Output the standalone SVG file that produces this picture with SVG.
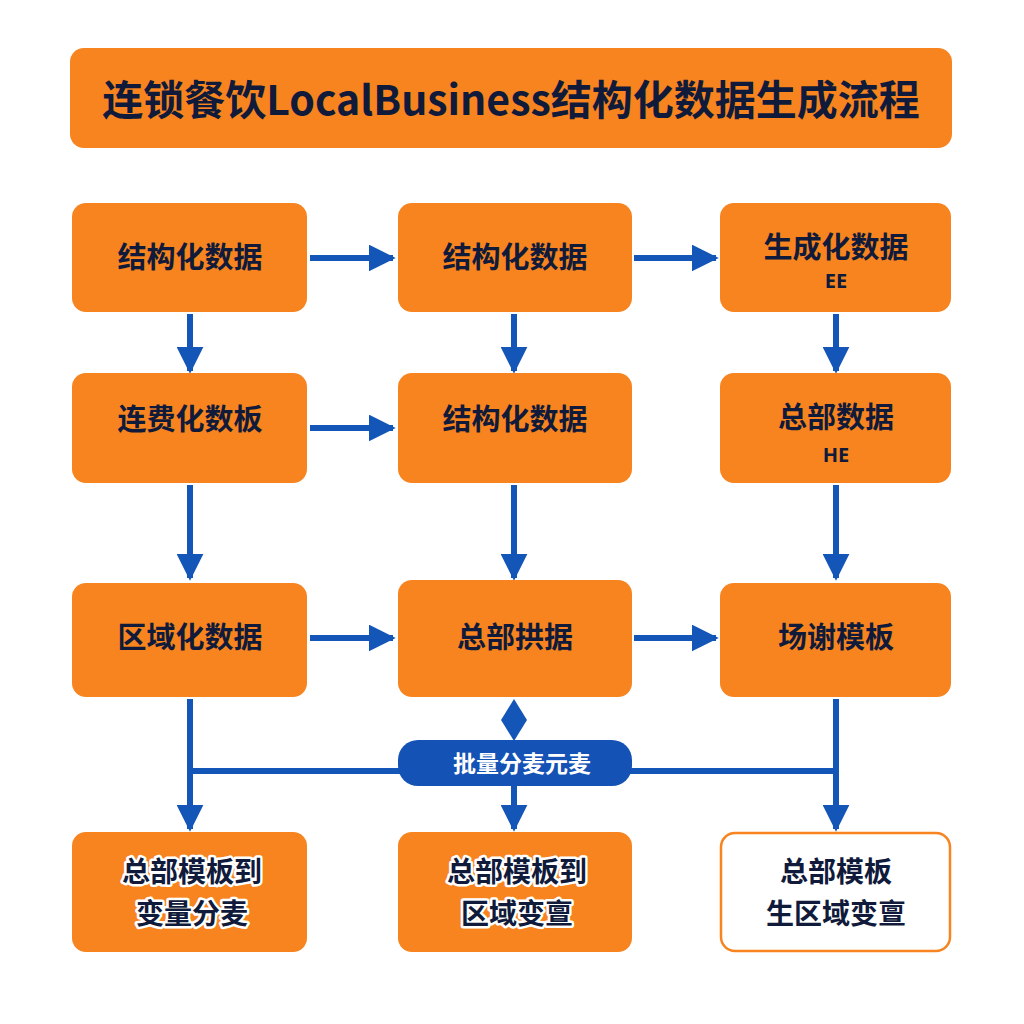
<svg xmlns="http://www.w3.org/2000/svg" width="1024" height="1024" viewBox="0 0 1024 1024">
<defs>
<marker id="ah" viewBox="0 0 10 10" refX="9" refY="5" markerWidth="4.5" markerHeight="4.5" orient="auto" markerUnits="strokeWidth"><path d="M0,0 L10,5 L0,10 z" fill="#1456B8"/></marker>
<style>
.box{fill:#F7841E}
.t{font-family:"Noto Sans CJK SC","Noto Sans",sans-serif;font-weight:700;font-size:29px;fill:#101A3A;text-anchor:middle}
.b{font-size:28px}
.s{font-family:"Noto Sans","Liberation Sans",sans-serif;font-weight:700;font-size:20px;fill:#101A3A;text-anchor:middle}
.o{stroke:#fff;stroke-width:5;paint-order:stroke;stroke-linejoin:round}
.c{stroke:#1456B8;stroke-width:6;fill:none}
</style>
</defs>
<rect width="1024" height="1024" fill="#fff"/>
<g id="title"><rect x="70" y="48" width="882" height="100" rx="14" class="box"/><text x="511" y="115" class="t" style="font-size:41px">连锁餐饮LocalBusiness结构化数据生成流程</text></g>
<g id="connectors">
<line x1="310" y1="258" x2="393" y2="258" class="c" marker-end="url(#ah)"/>
<line x1="634" y1="258" x2="716" y2="258" class="c" marker-end="url(#ah)"/>
<line x1="310" y1="428" x2="393" y2="428" class="c" marker-end="url(#ah)"/>
<line x1="310" y1="638" x2="393" y2="638" class="c" marker-end="url(#ah)"/>
<line x1="634" y1="638" x2="716" y2="638" class="c" marker-end="url(#ah)"/>
<line x1="190" y1="314" x2="190" y2="371" class="c" marker-end="url(#ah)"/>
<line x1="514" y1="314" x2="514" y2="371" class="c" marker-end="url(#ah)"/>
<line x1="836" y1="314" x2="836" y2="371" class="c" marker-end="url(#ah)"/>
<line x1="190" y1="485" x2="190" y2="578" class="c" marker-end="url(#ah)"/>
<line x1="514" y1="485" x2="514" y2="578" class="c" marker-end="url(#ah)"/>
<line x1="836" y1="485" x2="836" y2="578" class="c" marker-end="url(#ah)"/>
<line x1="190" y1="699" x2="190" y2="829" class="c" marker-end="url(#ah)"/>
<line x1="836" y1="699" x2="836" y2="829" class="c" marker-end="url(#ah)"/>
<line x1="190" y1="771" x2="836" y2="771" class="c"/>
<path d="M514,699 L527,720 L514,741 L501,720 Z" fill="#1456B8"/>
<line x1="514" y1="785" x2="514" y2="829" class="c" marker-end="url(#ah)"/>
</g>
<g id="pill"><rect x="398" y="740" width="234" height="46" rx="20" fill="#1452B5"/><text x="522" y="772" class="t" style="font-size:23px;fill:#fff">批量分麦元麦</text></g>
<g id="n1"><rect x="72" y="203" width="235" height="109" rx="14" class="box"/><text x="190" y="268" class="t">结构化数据</text></g>
<g id="n2"><rect x="398" y="203" width="234" height="109" rx="14" class="box"/><text x="515" y="268" class="t">结构化数据</text></g>
<g id="n3"><rect x="720" y="203" width="231" height="109" rx="14" class="box"/><text x="836" y="258" class="t">生成化数据</text><text x="836" y="288" class="s">EE</text></g>
<g id="n4"><rect x="72" y="373" width="235" height="110" rx="14" class="box"/><text x="190" y="430" class="t">连费化数板</text></g>
<g id="n5"><rect x="398" y="373" width="234" height="110" rx="14" class="box"/><text x="515" y="430" class="t">结构化数据</text></g>
<g id="n6"><rect x="720" y="373" width="231" height="110" rx="14" class="box"/><text x="836" y="428" class="t">总部数据</text><text x="836" y="462" class="s">HE</text></g>
<g id="n7"><rect x="72" y="583" width="235" height="114" rx="14" class="box"/><text x="190" y="648" class="t">区域化数据</text></g>
<g id="n8"><rect x="398" y="580" width="234" height="117" rx="14" class="box"/><text x="515" y="648" class="t">总部拱据</text></g>
<g id="n9"><rect x="720" y="583" width="231" height="114" rx="14" class="box"/><text x="836" y="648" class="t">场谢模板</text></g>
<g id="n10"><rect x="72" y="832" width="235" height="120" rx="14" class="box"/><text x="192" y="882" class="t b o">总部模板到</text><text x="192" y="924" class="t b o">变量分麦</text></g>
<g id="n11"><rect x="398" y="832" width="234" height="120" rx="14" class="box"/><text x="517" y="882" class="t b o">总部模板到</text><text x="517" y="924" class="t b o">区域变亶</text></g>
<g id="n12"><rect x="721" y="833" width="229" height="118" rx="14" fill="#fff" stroke="#F7841E" stroke-width="2.5"/><text x="836" y="882" class="t b">总部模板</text><text x="836" y="924" class="t b">生区域变亶</text></g>
</svg>
